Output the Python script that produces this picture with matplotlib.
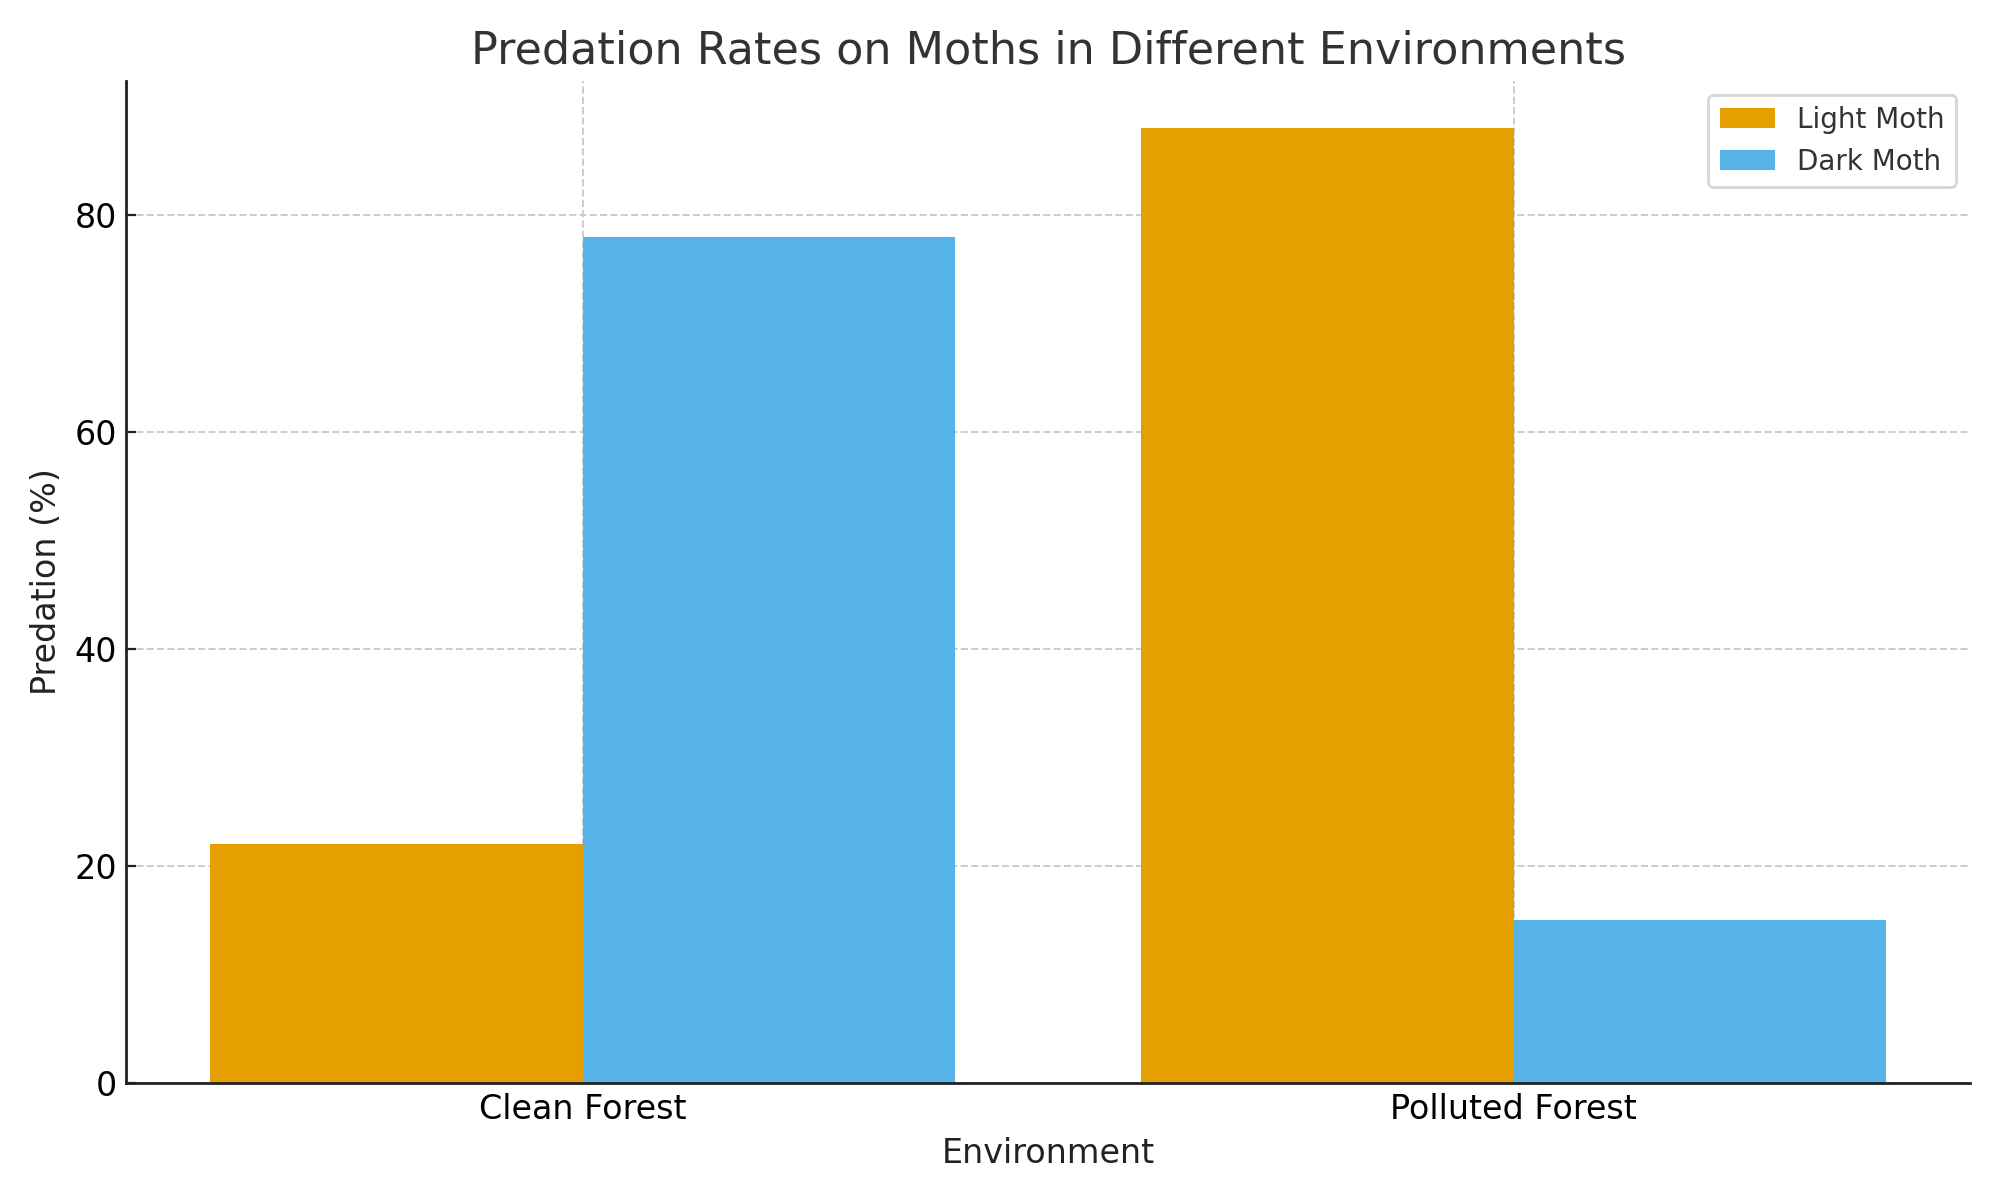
import numpy as np
import matplotlib
matplotlib.use("Agg")
import matplotlib.pyplot as plt

environments = ["Clean Forest", "Polluted Forest"]
light_moth = [22, 88]
dark_moth = [78, 15]

x = np.arange(len(environments))
width = 0.4

fig, ax = plt.subplots(figsize=(10, 6), dpi=200)
ax.bar(x - width / 2, light_moth, width, label="Light Moth", color="#E69F00", zorder=2)
ax.bar(x + width / 2, dark_moth, width, label="Dark Moth", color="#56B4E9", zorder=2)

ax.set_title("Predation Rates on Moths in Different Environments", fontsize=16, color="#333333")
ax.set_xlabel("Environment", fontsize=12, color="#222222")
ax.set_ylabel("Predation (%)", fontsize=12, color="#222222")
ax.set_xticks(x)
ax.set_xticklabels(environments)
ax.tick_params(labelsize=12, direction="in", color="#222222")

ax.grid(True, linestyle="--", color="#cccccc", linewidth=0.7, zorder=0)
ax.set_axisbelow(True)
ax.spines["top"].set_visible(False)
ax.spines["right"].set_visible(False)
for side in ("left", "bottom"):
    ax.spines[side].set_color("#222222")
    ax.spines[side].set_linewidth(1.0)

leg = ax.legend(fontsize=10, loc="upper right")
for t in leg.get_texts():
    t.set_color("#333333")

plt.tight_layout()
plt.savefig("out.png")
